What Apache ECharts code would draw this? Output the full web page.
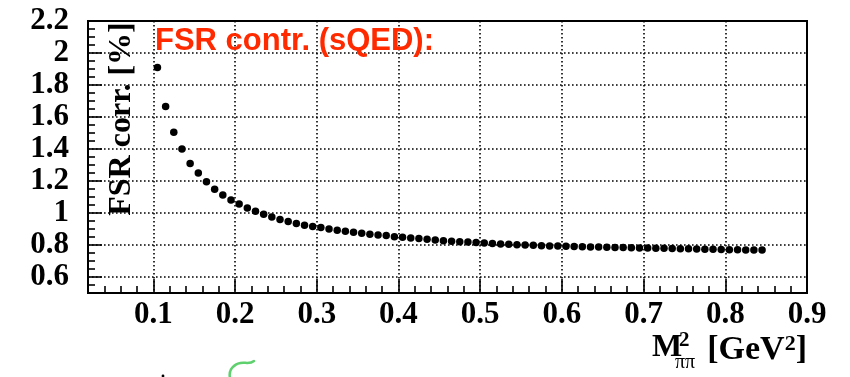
<!DOCTYPE html>
<html>
<head>
<meta charset="utf-8">
<title>FSR contr. (sQED)</title>
<script src="https://cdn.jsdelivr.net/npm/echarts@6/dist/echarts.min.js"></script>
<style>
  html, body { margin: 0; padding: 0; background: #fff; }
  #chart { width: 850px; height: 377px; }
</style>
</head>
<body>
<div id="chart"></div>
<script>
// ── Data ────────────────────────────────────────────
var massSq = [
  0.105, 0.115, 0.125, 0.135, 0.145, 0.155, 0.165, 0.175, 0.185, 0.195,
  0.205, 0.215, 0.225, 0.235, 0.245, 0.255, 0.265, 0.275, 0.285, 0.295,
  0.305, 0.315, 0.325, 0.335, 0.345, 0.355, 0.365, 0.375, 0.385, 0.395,
  0.405, 0.415, 0.425, 0.435, 0.445, 0.455, 0.465, 0.475, 0.485, 0.495,
  0.505, 0.515, 0.525, 0.535, 0.545, 0.555, 0.565, 0.575, 0.585, 0.595,
  0.605, 0.615, 0.625, 0.635, 0.645, 0.655, 0.665, 0.675, 0.685, 0.695,
  0.705, 0.715, 0.725, 0.735, 0.745, 0.755, 0.765, 0.775, 0.785, 0.795,
  0.805, 0.815, 0.825, 0.835, 0.845
];
var fsrCorr = [
  1.910, 1.665, 1.505, 1.400, 1.310, 1.250, 1.196, 1.148, 1.112, 1.082,
  1.056, 1.032, 1.011, 0.992, 0.975, 0.960, 0.947, 0.934, 0.923, 0.915,
  0.909, 0.900, 0.892, 0.886, 0.879, 0.873, 0.867, 0.863, 0.859, 0.852,
  0.848, 0.844, 0.840, 0.836, 0.831, 0.827, 0.823, 0.821, 0.819, 0.815,
  0.812, 0.809, 0.806, 0.804, 0.802, 0.800, 0.798, 0.796, 0.794, 0.793,
  0.792, 0.790, 0.789, 0.788, 0.787, 0.786, 0.785, 0.784, 0.783, 0.782,
  0.781, 0.780, 0.779, 0.778, 0.777, 0.776, 0.775, 0.774, 0.773, 0.772,
  0.771, 0.770, 0.769, 0.769, 0.768
];
var xTicks = [0.1, 0.2, 0.3, 0.4, 0.5, 0.6, 0.7, 0.8, 0.9];
var xTickLabels = ['0.1', '0.2', '0.3', '0.4', '0.5', '0.6', '0.7', '0.8', '0.9'];
var yTicks = [0.6, 0.8, 1.0, 1.2, 1.4, 1.6, 1.8, 2.0, 2.2];
var yTickLabels = ['0.6', '0.8', '1', '1.2', '1.4', '1.6', '1.8', '2', '2.2'];

var titleText = 'FSR contr. (sQED):';
var yTitle = 'FSR corr. [%]';

// ── Helpers ────────────────────────────────────────
function tickLabel(ticks, labels) {
  return function (v) {
    for (var i = 0; i < ticks.length; i++) {
      if (Math.abs(ticks[i] - v) < 1e-6) return labels[i];
    }
    return '';
  };
}

var serif = '"Liberation Serif", "Times New Roman", serif';
var dotted = { color: '#000', width: 1.6, type: [1.6, 2.4] };

var points = massSq.map(function (x, i) { return [x, fsrCorr[i]]; });

var chart = echarts.init(document.getElementById('chart'), null, { renderer: 'canvas' });

chart.setOption({
  backgroundColor: '#fff',
  animation: false,
  title: {
    text: titleText,
    left: 155,
    top: 26,
    padding: 0,
    textStyle: {
      color: '#ff2a00',
      fontFamily: '"Liberation Sans", Arial, sans-serif',
      fontWeight: 'bold',
      fontSize: 31
    }
  },
  grid: {
    left: 88, top: 21, right: 43, bottom: 84,
    show: true, borderColor: '#000', borderWidth: 2
  },
  xAxis: {
    type: 'value',
    min: 0.02, max: 0.9,
    splitNumber: 9, minInterval: 0.1, maxInterval: 0.1,
    axisLine: { show: true, lineStyle: { color: '#000', width: 2 } },
    axisTick: { show: true, inside: true, length: 14, lineStyle: { color: '#000', width: 1.6 } },
    minorTick: { show: true, splitNumber: 5, length: 7, lineStyle: { color: '#000', width: 1.6 } },
    splitLine: { show: true, lineStyle: dotted },
    axisLabel: {
      color: '#000', fontFamily: serif, fontWeight: 'bold', fontSize: 31,
      margin: 6, showMinLabel: true, showMaxLabel: true, hideOverlap: false,
      formatter: tickLabel(xTicks, xTickLabels)
    }
  },
  yAxis: {
    type: 'value',
    min: 0.5, max: 2.2,
    splitNumber: 8, minInterval: 0.2, maxInterval: 0.2,
    axisLine: { show: true, lineStyle: { color: '#000', width: 2 } },
    axisTick: { show: true, inside: true, length: 14, lineStyle: { color: '#000', width: 1.6 } },
    minorTick: { show: true, splitNumber: 4, length: 7, lineStyle: { color: '#000', width: 1.6 } },
    splitLine: { show: true, lineStyle: dotted },
    axisLabel: {
      color: '#000', fontFamily: serif, fontWeight: 'bold', fontSize: 31,
      margin: 19, showMinLabel: true, showMaxLabel: true, hideOverlap: false,
      formatter: tickLabel(yTicks, yTickLabels)
    }
  },
  series: [{
    type: 'scatter',
    data: points,
    symbol: 'circle',
    symbolSize: 7.5,
    itemStyle: { color: '#000', opacity: 1 },
    z: 5
  }],
  graphic: [
    {
      type: 'text', x: 122, y: 119, rotation: Math.PI / 2, z: 10,
      style: {
        text: yTitle, fill: '#000', font: 'bold 32px ' + serif,
        textAlign: 'center', textVerticalAlign: 'middle'
      }
    },
    { type: 'text', x: 652, y: 348, z: 10,
      style: { text: 'M', fill: '#000', font: 'bold 32px ' + serif, textAlign: 'left', textVerticalAlign: 'middle' } },
    { type: 'text', x: 679, y: 341, z: 10,
      style: { text: '2', fill: '#000', font: 'bold 21px ' + serif, textAlign: 'left', textVerticalAlign: 'middle' } },
    { type: 'text', x: 675, y: 363, z: 10,
      style: { text: 'ππ', fill: '#000', font: '20px ' + serif, textAlign: 'left', textVerticalAlign: 'middle' } },
    { type: 'text', x: 807, y: 350, z: 10,
      style: {
        text: '{b|[GeV}{s|2}{b|]}', fill: '#000', textAlign: 'right', textVerticalAlign: 'middle',
        rich: {
          b: { font: 'bold 34px ' + serif, fill: '#000', verticalAlign: 'bottom' },
          s: { font: 'bold 22px ' + serif, fill: '#000', verticalAlign: 'top', padding: [0, 0, 0, 0] }
        }
      } },
    // stray pen marks from the slide
    { type: 'bezierCurve', z: 10,
      shape: { x1: 254, y1: 361, cpx1: 248, cpy1: 366, cpx2: 241, cpy2: 359, x2: 234, y2: 366 },
      style: { fill: null, stroke: '#5fd06e', lineWidth: 2.5, lineCap: 'round' } },
    { type: 'bezierCurve', z: 10,
      shape: { x1: 234, y1: 366, cpx1: 230, cpy1: 369, cpx2: 229, cpy2: 373, x2: 230, y2: 378 },
      style: { fill: null, stroke: '#5fd06e', lineWidth: 2.5, lineCap: 'round' } },
    { type: 'circle', z: 10, shape: { cx: 163, cy: 376, r: 1.4 }, style: { fill: '#000' } }
  ]
});

window.addEventListener('resize', function () { chart.resize(); });
</script>
</body>
</html>
